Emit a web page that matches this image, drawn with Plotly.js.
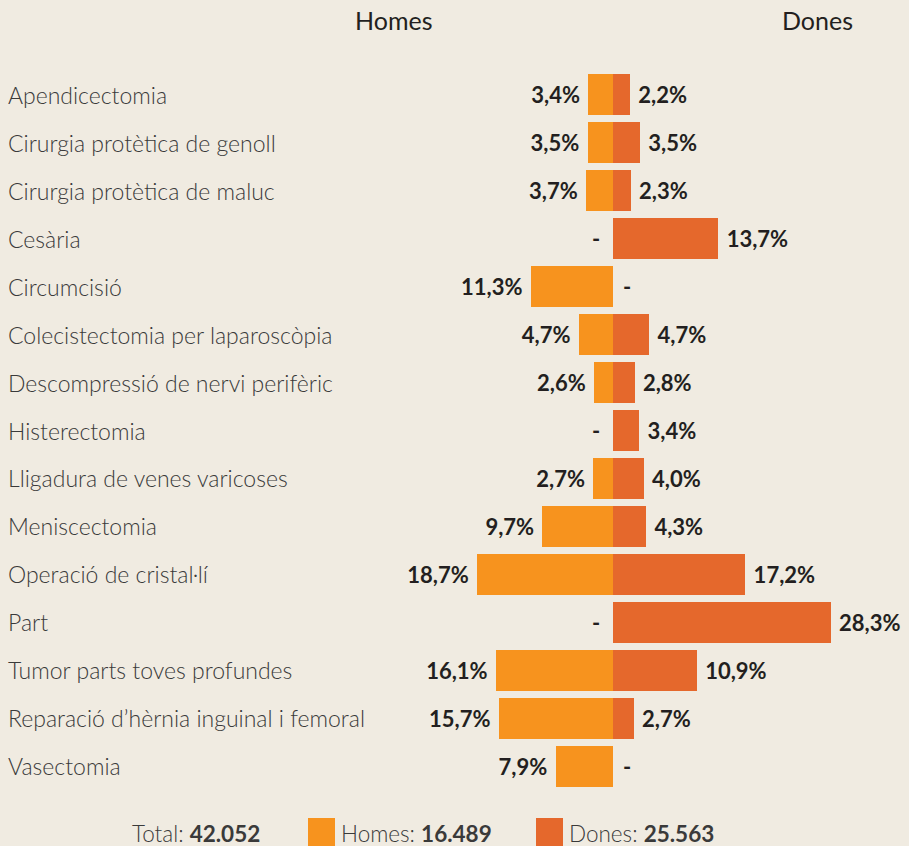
<!DOCTYPE html>
<html>
<head>
<meta charset="utf-8">
<script src="https://cdn.plot.ly/plotly-3.0.1.min.js"></script>
<style>
html,body{margin:0;padding:0;background:#F0EBE1;}
#chart{width:909px;height:846px;}
</style>
</head>
<body>
<div id="chart"></div>
<script>
const categories = [
  "Apendicectomia",
  "Cirurgia protètica de genoll",
  "Cirurgia protètica de maluc",
  "Cesària",
  "Circumcisió",
  "Colecistectomia per laparoscòpia",
  "Descompressió de nervi perifèric",
  "Histerectomia",
  "Lligadura de venes varicoses",
  "Meniscectomia",
  "Operació de cristal·lí",
  "Part",
  "Tumor parts toves profundes",
  "Reparació d’hèrnia inguinal i femoral",
  "Vasectomia"
];
const homes = [3.4, 3.5, 3.7, 0, 11.3, 4.7, 2.6, 0, 2.7, 9.7, 18.7, 0, 16.1, 15.7, 7.9];
const dones = [2.2, 3.5, 2.3, 13.7, 0, 4.7, 2.8, 3.4, 4.0, 4.3, 17.2, 28.3, 10.9, 2.7, 0];
const seriesNames = ["Homes", "Dones"];
const totalLabel = "Total";
const totalAll = 42052;
const totalHomes = 16489;
const totalDones = 25563;

const cHomes = "#F7931E";
const cDones = "#E5682C";
const dark = "#231F20";
const LBL = "Lato, 'Open Sans', sans-serif";
const NB = "\u00A0";

const fmtPct = v => v.toFixed(1).replace('.', ',') + '%';
const fmtInt = n => n.toString().replace(/\B(?=(\d{3})+(?!\d))/g, '.');
const boldFont = {family: LBL, size: 22, color: dark, weight: 700};

const traces = [
  {
    type: 'bar', orientation: 'h', y: categories, x: homes.map(v => -v), xaxis: 'x', yaxis: 'y',
    marker: {color: cHomes}, width: 0.855,
    text: homes.map(v => v > 0 ? fmtPct(v) + NB : ''),
    textposition: 'outside', constraintext: 'none', cliponaxis: false,
    textfont: boldFont, hoverinfo: 'skip', showlegend: false
  },
  {
    type: 'bar', orientation: 'h', y: categories, x: dones, xaxis: 'x2', yaxis: 'y',
    marker: {color: cDones}, width: 0.855,
    text: dones.map(v => v > 0 ? NB + fmtPct(v) : ''),
    textposition: 'outside', constraintext: 'none', cliponaxis: false,
    textfont: boldFont, hoverinfo: 'skip', showlegend: false
  }
];

const annotations = [];
categories.forEach((c, i) => {
  annotations.push({xref: 'paper', yref: 'y', x: 0.0066, y: c, xanchor: 'left', yanchor: 'middle',
    text: c, showarrow: false, font: {family: LBL, size: 23, color: '#3A3A3A', weight: 300}});
  if (homes[i] === 0) annotations.push({xref: 'x', yref: 'y', x: 0, y: c, xshift: -17, text: '-',
    showarrow: false, font: boldFont});
  if (dones[i] === 0) annotations.push({xref: 'x2', yref: 'y', x: 0, y: c, xshift: 14, text: '-',
    showarrow: false, font: boldFont});
});
// column titles
annotations.push({xref: 'paper', yref: 'paper', x: 393/909, y: 1, yshift: 51, text: seriesNames[0],
  showarrow: false, xanchor: 'center', yanchor: 'middle', font: {family: LBL, size: 25, color: dark}});
annotations.push({xref: 'paper', yref: 'paper', x: 817/909, y: 1, yshift: 51, text: seriesNames[1],
  showarrow: false, xanchor: 'center', yanchor: 'middle', font: {family: LBL, size: 25, color: dark}});
// bottom legend
const legFont = {family: LBL, size: 22.5, color: '#3A3A3A', weight: 300};
annotations.push({xref: 'paper', yref: 'paper', x: 130/909, y: 0, yshift: -43, xanchor: 'left', yanchor: 'middle',
  text: totalLabel + ': <b>' + fmtInt(totalAll) + '</b>', showarrow: false, font: legFont});
annotations.push({xref: 'paper', yref: 'paper', x: 339/909, y: 0, yshift: -43, xanchor: 'left', yanchor: 'middle',
  text: seriesNames[0] + ': <b>' + fmtInt(totalHomes) + '</b>', showarrow: false, font: legFont});
annotations.push({xref: 'paper', yref: 'paper', x: 567/909, y: 0, yshift: -43, xanchor: 'left', yanchor: 'middle',
  text: seriesNames[1] + ': <b>' + fmtInt(totalDones) + '</b>', showarrow: false, font: legFont});

const plotTop = 71, plotBot = 790, H = 846, PH = plotBot - plotTop;
const shapes = [
  {type: 'rect', xref: 'paper', yref: 'paper', x0: 308/909, x1: 335/909,
   y0: (plotBot - 846) / PH, y1: (plotBot - 818) / PH, fillcolor: cHomes, line: {width: 0}},
  {type: 'rect', xref: 'paper', yref: 'paper', x0: 536/909, x1: 563/909,
   y0: (plotBot - 846) / PH, y1: (plotBot - 818) / PH, fillcolor: cDones, line: {width: 0}}
];

const center = 613, W = 909;
const sH = 7.27, sD = 7.69;
const layout = {
  width: W, height: H,
  margin: {l: 0, r: 0, t: plotTop, b: H - plotBot, pad: 0},
  paper_bgcolor: '#F0EBE1', plot_bgcolor: '#F0EBE1',
  barmode: 'overlay', bargap: 0,
  xaxis: {range: [-center/sH, (W-center)/sH], visible: false, fixedrange: true},
  xaxis2: {range: [-center/sD, (W-center)/sD], visible: false, fixedrange: true, overlaying: 'x'},
  yaxis: {autorange: false, range: [14.5, -0.5], visible: false, type: 'category', fixedrange: true},
  annotations: annotations, shapes: shapes,
  showlegend: false
};

Plotly.newPlot('chart', traces, layout, {displayModeBar: false, staticPlot: true});
</script>
</body>
</html>
